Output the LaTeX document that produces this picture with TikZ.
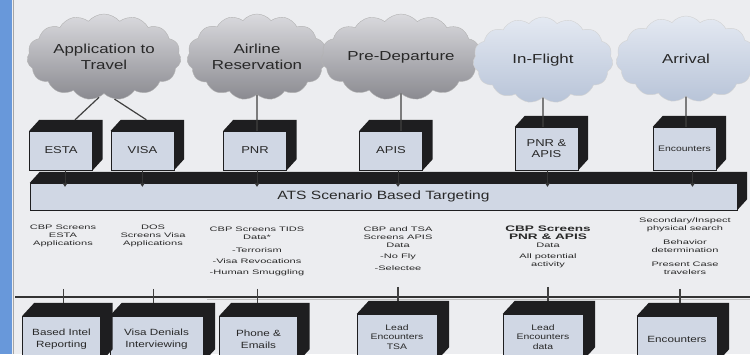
\documentclass[tikz,border=0pt]{standalone}
\usepackage{fontspec}
\setmainfont[FakeStretch=1.3]{Liberation Sans}
\newfontfamily\widefont[FakeStretch=1.7]{Liberation Sans}
\usetikzlibrary{shapes.symbols,arrows.meta}
\usetikzlibrary{positioning}

\definecolor{pagebg}{RGB}{236,237,240}
\definecolor{sideblue}{RGB}{104,152,218}
\definecolor{boxface}{RGB}{208,215,228}
\definecolor{boxdark}{RGB}{30,30,32}
\definecolor{cloudtop}{RGB}{218,218,222}
\definecolor{cloudbot}{RGB}{138,138,144}
\definecolor{skytop}{RGB}{228,233,242}
\definecolor{skybot}{RGB}{184,196,216}
\definecolor{inkgray}{RGB}{40,40,40}

\tikzset{
  cloudnode/.style={cloud, cloud puffs=15, cloud puff arc=100, cloud ignores aspect,
    minimum width=140pt, minimum height=86pt, draw=gray!60, top color=cloudtop,
    bottom color=cloudbot, align=center, text=inkgray, font=\fontsize{13}{16}\selectfont},
  skycloud/.style={cloudnode, top color=skytop, bottom color=skybot, draw=gray!35},
  cube/.style={rectangle, fill=boxface, draw=boxdark, line width=0.4pt, align=center,
    inner sep=1pt, text=inkgray, minimum width=63pt, minimum height=39pt,
    font=\fontsize{10}{11}\selectfont},
  lowcube/.style={cube, minimum width=78pt, minimum height=46pt, font=\fontsize{9}{12}\selectfont},
  note/.style={align=center, text=inkgray, font=\widefont\fontsize{6.5}{8}\selectfont},
  link/.style={draw=black!75, line width=1.2pt},
  notch/.style={draw=black!80, line width=1pt, -{Triangle[width=5pt,length=4pt]}, shorten >=-4pt},
}

\begin{document}
\begin{tikzpicture}[x=1pt, y=-1pt]
    \clip (0,0) rectangle (750,354);
    \fill[pagebg] (0,0) rectangle (750,354);
    \fill[sideblue] (0,0) rectangle (12,354);
    \draw[gray!70, line width=1pt] (13,0) -- (13,354);

    % Place clouds
    \node [cloudnode] (apptravel) at (104,57) {Application to\\Travel};
    \node [cloudnode] (airres) at (257,57) {Airline\\Reservation};
    \node [cloudnode] (predep) at (401,57) {Pre-Departure};
    \node [skycloud] (inflight) at (543,60) {In-Flight};
    \node [skycloud] (arrival) at (686,59) {Arrival};

    % Place boxes
    \node [cube] (esta) at (61,150.5) {ESTA};
    \node [cube, right=18pt of esta] (visa) {VISA};
    \node [cube] (pnr) at (255,150.5) {PNR};
    \node [cube] (apis) at (391,150.5) {APIS};
    \node [cube, minimum height=43pt] (pnrapis) at (546.5,148.5) {PNR \&\\APIS};
    \node [cube, minimum height=43pt, font=\fontsize{8}{9}\selectfont] (entries) at (684.5,148.5) {Encounters};
    \node [cube, minimum width=707pt, minimum height=27pt, font=\fontsize{12}{14}\selectfont] (bar) at (383.5,196.5) {ATS Scenario Based Targeting};

    \node [lowcube] (intel) at (61.5,339) {Based Intel\\Reporting};
    \node [lowcube, minimum width=93pt] (vint) at (156.5,339) {Visa Denials\\Interviewing};
    \node [lowcube] (phone) at (258.5,339) {Phone \&\\Emails};
    \node [lowcube, minimum width=80pt, font=\fontsize{8}{9.5}\selectfont] (leadtsa) at (397,337) {Lead\\Encounters\\TSA};
    \node [lowcube, minimum width=80pt, font=\fontsize{8}{9.5}\selectfont] (leaddata) at (543,337) {Lead\\Encounters\\data};
    \node [lowcube, minimum width=80pt] (encount) at (677,339) {Encounters};

    % dark faces of the boxes
    \foreach \n in {esta,visa,pnr,apis,pnrapis,entries,bar}
        \fill[boxdark] (\n.north west) -- ++(10pt,11pt) -- ([shift={(10pt,11pt)}]\n.north east)
            -- ([shift={(10pt,11pt)}]\n.south east) -- (\n.south east) -- (\n.north east) -- cycle;
    \foreach \n in {intel,vint,phone,leadtsa,leaddata,encount}
        \fill[boxdark] (\n.north west) -- ++(12pt,13pt) -- ([shift={(12pt,13pt)}]\n.north east)
            -- ([shift={(12pt,13pt)}]\n.south east) -- (\n.south east) -- (\n.north east) -- cycle;

    % Draw edges
    \path [link] (apptravel.-97) -- ([xshift=14pt,yshift=11pt]esta.north);
    \path [link] (apptravel.-76) -- ([xshift=4pt,yshift=11pt]visa.north);
    \path [link] (airres) -- (airres |- pnr.north);
    \path [link] (predep) -- (predep |- apis.north);
    \path [link] (inflight) -- (inflight |- pnrapis.north);
    \path [link] (arrival) -- (arrival |- entries.north);
    \foreach \b/\dx in {esta/4,visa/0,pnr/2,apis/7,pnrapis/1,entries/8}
        \path [notch] ([xshift=\dx pt]\b.south) -- ([xshift=\dx pt]\b.south |- bar.north);

    % Screening notes
    \node [note] (n1) at (63,236) {CBP Screens\\ESTA\\Applications};
    \node [note] (n2) at (153,236) {DOS\\Screens Visa\\Applications};
    \node [note] (n3) at (257,251) {CBP Screens TIDS\\Data*\\[5pt]-Terrorism\\[3pt]-Visa Revocations\\[3pt]-Human Smuggling};
    \node [note] (n4) at (398,249) {CBP and TSA\\Screens APIS\\Data\\[3pt]-No Fly\\[4pt]-Selectee};
    \node [note] (n5) at (548,247) {{\fontsize{8}{8}\selectfont\bfseries CBP Screens}\\{\fontsize{8}{8}\selectfont\bfseries PNR \& APIS}\\Data\\[3pt]All potential\\activity};
    \node [note] (n6) at (685,246) {Secondary/Inspect\\physical search\\[6pt]Behavior\\determination\\[6pt]Present Case\\travelers};

    \draw[black!80, line width=1.6pt] (15,297) -- (750,297);
    \draw[gray!50, line width=0.8pt] (207,299.5) -- (750,299.5);
    \foreach \b/\dx in {intel/2,vint/-3,phone/-1,leadtsa/1,leaddata/5,encount/3}
        \path [link] ([xshift=\dx pt,yshift=27pt]\b.north) -- ([xshift=\dx pt,yshift=13pt]\b.north);
\end{tikzpicture}
\end{document}
